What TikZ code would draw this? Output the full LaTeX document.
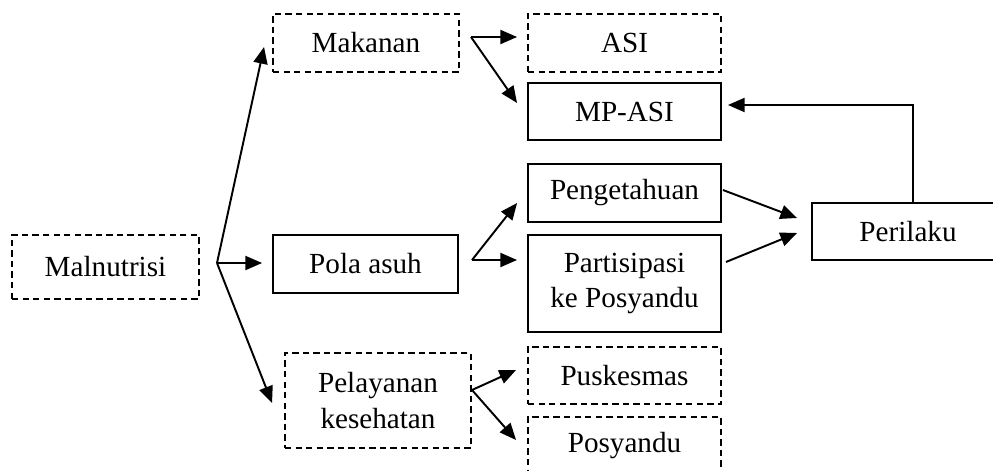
\documentclass[tikz,border=0pt]{standalone}
\usepackage{fontspec}
\setmainfont{Liberation Serif}
\usetikzlibrary{arrows.meta,calc}
\begin{document}
\begin{tikzpicture}[x=0.02cm,y=-0.02cm,
  every node/.style={font=\fontsize{16.6}{20}\selectfont, inner sep=0pt, align=center},
  solidbox/.style={draw, line width=1.1pt, rectangle},
  dashbox/.style={draw, line width=1.1pt, rectangle, dash pattern=on 3.6pt off 2.4pt},
  arr/.style={line width=1.1pt, -{Triangle[length=9.5pt,width=8pt]}}]
\useasboundingbox (0,0) rectangle (993,470);
\node[dashbox, minimum width=3.74cm, minimum height=1.28cm] (mal) at (105.5,267) {Malnutrisi};
\node[solidbox, minimum width=3.70cm, minimum height=1.16cm] (pola) at (365.5,264) {Pola asuh};
\node[dashbox, minimum width=3.72cm, minimum height=1.16cm] (mak) at (366,43) {Makanan};
\node[dashbox, minimum width=3.72cm, minimum height=1.90cm] (pel) at (378,400.5) {Pelayanan\\kesehatan};
\node[dashbox, minimum width=3.86cm, minimum height=1.16cm] (asi) at (624.5,43) {ASI};
\node[solidbox, minimum width=3.86cm, minimum height=1.14cm] (mpasi) at (624.5,111.5) {MP-ASI};
\node[solidbox, minimum width=3.86cm, minimum height=1.16cm] (peng) at (624.5,193) {Pengetahuan};
\node[solidbox, minimum width=3.86cm, minimum height=1.94cm] (part) at (624.5,283.5) {Partisipasi\\ke Posyandu};
\node[dashbox, minimum width=3.86cm, minimum height=1.14cm] (pusk) at (624.5,375.5) {Puskesmas};
\node[dashbox, minimum width=3.86cm, minimum height=1.14cm] (posy) at (624.5,445.5) {Posyandu};
\node[solidbox, minimum width=3.84cm, minimum height=1.14cm] (peri) at (908,231.5) {Perilaku};
\coordinate (b1) at (217,263);
\coordinate (b2) at (471,37);
\coordinate (b3) at (472,260);
\coordinate (b4) at (472,390);
\draw[arr] (b1) -- ($(mak.west)+(-8,4)$);
\draw[arr] (b1) -- ($(pola.west)+(-10,-1)$);
\draw[arr] (b1) -- ($(pel.west)+(-12,2.5)$);
\draw[arr] (b2) -- ($(asi.west)+(-10,-6)$);
\draw[arr] (b2) -- ($(mpasi.west)+(-10,-8.5)$);
\draw[arr] (b3) -- ($(peng.west)+(-10,10)$);
\draw[arr] (b3) -- ($(part.west)+(-10,-23.5)$);
\draw[arr] (b4) -- ($(pusk.west)+(-11,-5.5)$);
\draw[arr] (b4) -- ($(posy.west)+(-11,-5.5)$);
\draw[arr] ($(peng.east)+(1,-3)$) -- ($(peri.west)+(-14,-13.5)$);
\draw[arr] ($(part.east)+(4,-21.5)$) -- ($(peri.west)+(-14,1.5)$);
\draw[arr] ($(peri.north)+(5,0)$) |- ($(mpasi.east)+(6,-6.5)$);
\end{tikzpicture}
\end{document}
